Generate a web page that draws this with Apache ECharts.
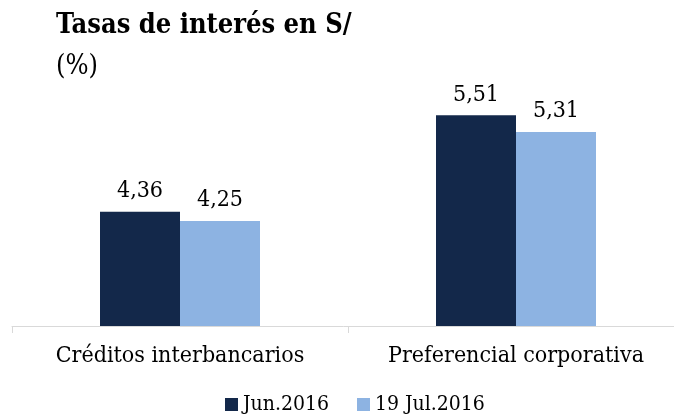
<!DOCTYPE html>
<html>
<head>
<meta charset="utf-8">
<script src="https://cdn.jsdelivr.net/npm/echarts@6/dist/echarts.min.js"></script>
<style>
  html, body { margin: 0; padding: 0; background: #fff; }
  #chart { width: 674px; height: 417px; }
</style>
</head>
<body>
<div id="chart"></div>
<script>
var categories = ['Créditos interbancarios', 'Preferencial corporativa'];
var seriesNames = ['Jun.2016', '19 Jul.2016'];
var junValues = [4.36, 5.51];
var julValues = [4.25, 5.31];

var font = "'DejaVu Serif Condensed', 'Liberation Serif', serif";
var myChart = echarts.init(document.getElementById('chart'));

function fmt(p) {
    return p.value.toFixed(2).replace('.', ',');
}

var option = {
    animation: false,
    textStyle: { fontFamily: font },
    title: {
        text: 'Tasas de interés en S/',
        subtext: '(%)',
        left: 51,
        top: 7,
        itemGap: 14,
        textStyle: { fontFamily: font, fontSize: 27, fontWeight: 'bold', color: '#000' },
        subtextStyle: { fontFamily: font, fontSize: 27, color: '#000' }
    },
    legend: {
        bottom: -3,
        left: 220,
        itemWidth: 13,
        itemHeight: 13,
        itemGap: 28,
        icon: 'rect',
        textStyle: { fontFamily: font, fontSize: 21, color: '#000' },
        data: seriesNames
    },
    grid: { left: 12, top: 74, width: 672, bottom: 91, outerBoundsMode: 'none' },
    xAxis: {
        type: 'category',
        data: categories,
        axisLine: { lineStyle: { color: '#d9d9d9', width: 1 } },
        axisTick: { show: true, length: 7, lineStyle: { color: '#d9d9d9' } },
        axisLabel: { fontFamily: font, fontSize: 23, color: '#000', margin: 19 }
    },
    yAxis: {
        type: 'value',
        min: 3,
        max: 6,
        show: false,
        splitLine: { show: false }
    },
    series: [
        {
            name: seriesNames[0],
            type: 'bar',
            data: junValues,
            barWidth: 80,
            barGap: '0%',
            itemStyle: { color: '#13284a' },
            label: { show: true, position: 'top', distance: 9, formatter: fmt,
                     fontFamily: font, fontSize: 23, color: '#000' }
        },
        {
            name: seriesNames[1],
            type: 'bar',
            data: julValues,
            barWidth: 80,
            barGap: '0%',
            itemStyle: { color: '#8db3e2' },
            label: { show: true, position: 'top', distance: 9, formatter: fmt,
                     fontFamily: font, fontSize: 23, color: '#000' }
        }
    ]
};

myChart.setOption(option);
</script>
</body>
</html>
